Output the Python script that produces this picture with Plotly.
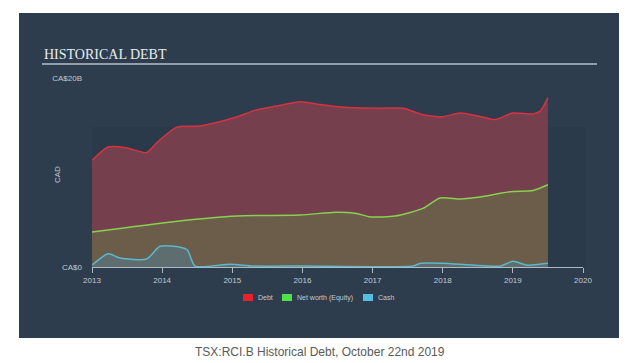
import plotly.graph_objects as go

# ---- data (CA$ billions, x in decimal years) ----
debt_x = [2013.0, 2013.23, 2013.5, 2013.78, 2013.93, 2014.21, 2014.5, 2014.78, 2015.07, 2015.33,
          2015.61, 2015.97, 2016.25, 2016.61, 2017.11, 2017.44, 2017.72, 2018.0, 2018.25, 2018.49,
          2018.75, 2019.0, 2019.29, 2019.39, 2019.5]
debt_y = [11.3, 12.7, 12.6, 12.1, 13.2, 14.8, 14.9, 15.3, 15.9, 16.6,
          17.0, 17.5, 17.2, 16.9, 16.8, 16.8, 16.1, 15.9, 16.3, 16.0,
          15.6, 16.3, 16.2, 16.5, 17.9]

equity_x = [2013.0, 2014.16, 2015.07, 2015.97, 2016.47, 2016.75, 2016.97, 2017.32, 2017.72, 2017.96,
            2018.25, 2018.53, 2018.82, 2019.0, 2019.29, 2019.5]
equity_y = [3.7, 4.8, 5.4, 5.5, 5.8, 5.7, 5.3, 5.4, 6.2, 7.3,
            7.2, 7.4, 7.8, 8.0, 8.1, 8.7]

cash_x = [2013.0, 2013.23, 2013.4, 2013.78, 2013.97, 2014.26, 2014.36, 2014.47, 2014.97, 2015.3,
          2016.0, 2017.58, 2017.68, 2018.0, 2018.82, 2019.0, 2019.2, 2019.5]
cash_y = [0.2, 1.4, 0.95, 0.85, 2.2, 2.1, 1.8, 0.1, 0.3, 0.1,
          0.1, 0.1, 0.4, 0.4, 0.1, 0.6, 0.2, 0.4]

years = [2013, 2014, 2015, 2016, 2017, 2018, 2019, 2020]
year_labels = [str(y) for y in years]
y_ticks = [0, 20]
y_tick_labels = ["CA$0", "CA$20B"]

series = [
    ("Debt", debt_x, debt_y, "#d8323f", "#763f4e"),
    ("Net worth (Equity)", equity_x, equity_y, "#86d24e", "#6b5d4a"),
    ("Cash", cash_x, cash_y, "#5cb8cc", "#5e6d6f"),
]

OFF = 8  # page body margin
W, H = 640 - OFF, 363 - OFF
L, R, T, B = 92, 583, 78, 267  # plot area in window pixels


def px(x):
    return (x - L) / (R - L)


def py(y):
    return (B - y) / (B - T)


fig = go.Figure()
for name, xs, ys, lc, fc in series:
    fig.add_trace(go.Scatter(
        x=xs, y=ys, name=name, mode="lines",
        line=dict(color=lc, width=1.5, shape="spline", smoothing=0.6),
        fill="tozeroy", fillcolor=fc, hoverinfo="skip",
    ))

panel = "#2e3d4e"
shapes = [
    dict(type="rect", xref="paper", yref="paper", x0=px(19), x1=px(619), y0=py(338), y1=py(13),
         fillcolor=panel, line=dict(width=0), layer="below"),
    dict(type="rect", xref="paper", yref="paper", x0=px(92), x1=px(586), y0=py(267), y1=py(127),
         fillcolor="#2b3a4a", line=dict(width=0), layer="below"),
    dict(type="line", xref="paper", yref="paper", x0=px(42), x1=px(597), y0=py(64), y1=py(64),
         line=dict(color="#b8c0c8", width=1.5)),
]

annotations = [
    dict(text="HISTORICAL DEBT", xref="paper", yref="paper", x=px(42), y=py(54),
         xanchor="left", yanchor="middle", showarrow=False,
         font=dict(family="Liberation Serif", size=14, color="#e8ecef")),
    dict(text="TSX:RCI.B Historical Debt, October 22nd 2019", xref="paper", yref="paper",
         x=px(320), y=py(352), xanchor="center", yanchor="middle", showarrow=False,
         font=dict(family="Liberation Sans", size=12, color="#5a5a5a")),
    dict(text="CAD", xref="paper", yref="paper", x=px(57), y=py(175), textangle=-90,
         xanchor="center", yanchor="middle", showarrow=False,
         font=dict(family="Liberation Sans", size=8, color="#c3c9cf")),
]

# manual legend
leg_pos = [243, 282, 363]
leg_colors = ["#e8212b", "#4fe04a", "#56bfe2"]
for (name, *_), x0, c in zip(series, leg_pos, leg_colors):
    shapes.append(dict(type="rect", xref="paper", yref="paper", x0=px(x0), x1=px(x0 + 10),
                       y0=py(301), y1=py(294), fillcolor=c, line=dict(width=0)))
    annotations.append(dict(text=name, xref="paper", yref="paper", x=px(x0 + 13), y=py(297.5),
                            xanchor="left", yanchor="middle", showarrow=False,
                            font=dict(family="Liberation Sans", size=7, color="#c3c9cf")))

fig.update_layout(
    width=W, height=H,
    margin=dict(l=L - OFF, r=640 - R, t=T - OFF, b=363 - B, pad=0),
    paper_bgcolor="white", plot_bgcolor="rgba(0,0,0,0)",
    showlegend=False,
    shapes=shapes, annotations=annotations,
    font=dict(family="Liberation Sans", size=8, color="#c3c9cf"),
    xaxis=dict(range=[2013, 2020], tickvals=years, ticktext=year_labels,
               showgrid=False, zeroline=False, showline=True, linecolor="#b0b8c0", linewidth=1,
               ticks="outside", ticklen=5, tickcolor="#b0b8c0",
               tickfont=dict(size=8, color="#c3c9cf")),
    yaxis=dict(range=[0, 20], tickvals=y_ticks, ticktext=y_tick_labels,
               showgrid=False, zeroline=False, showline=False, ticks="",
               ticklabelstandoff=9,
               tickfont=dict(size=8, color="#c3c9cf")),
)

fig.write_html("out.html")
